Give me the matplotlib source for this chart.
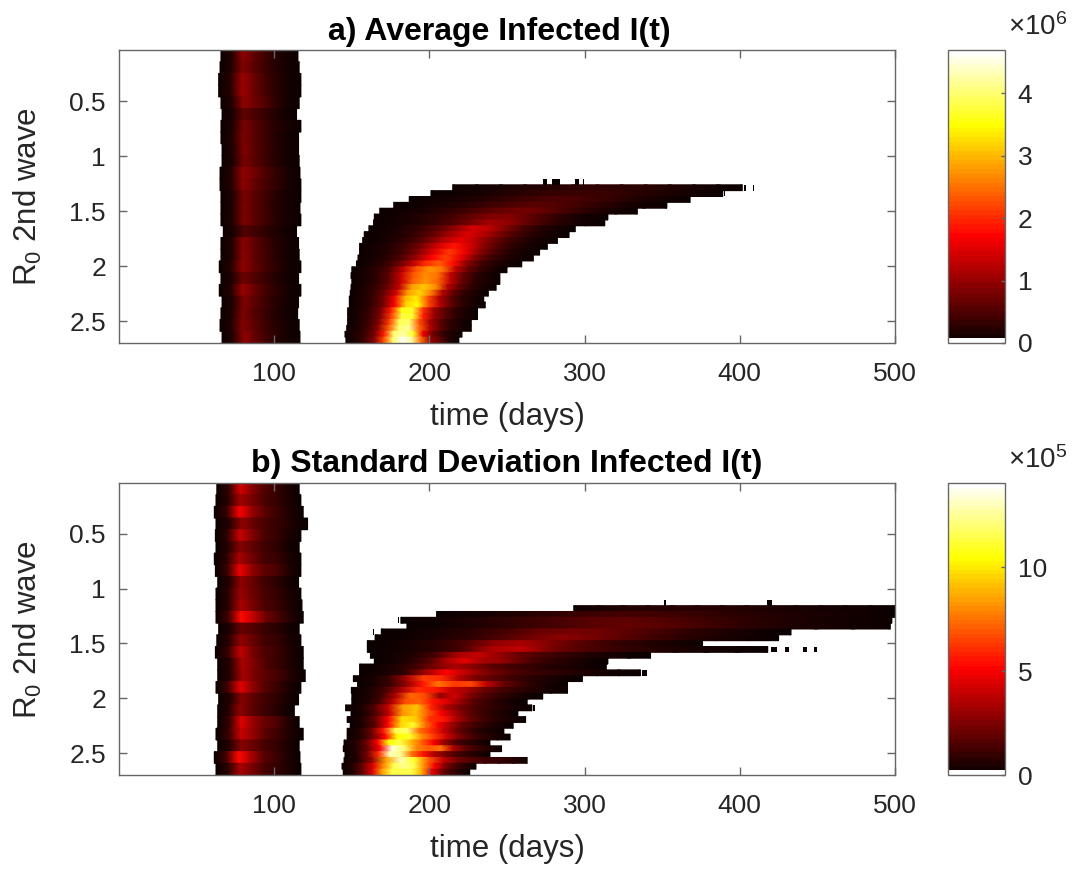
import numpy as np
import matplotlib
matplotlib.use("Agg")
import matplotlib.pyplot as plt
from matplotlib.colors import ListedColormap, Normalize
from matplotlib.cm import ScalarMappable

plt.rcParams['font.family'] = ['Liberation Sans', 'DejaVu Sans']
plt.rcParams['mathtext.fontset'] = 'custom'
plt.rcParams['mathtext.rm'] = 'Liberation Sans'
plt.rcParams['mathtext.default'] = 'regular'

# panel a, first wave: 25 bands of R0 (units 1e6)
a_w1_start = [65.7, 65.1, 64.2, 64.2, 65.7, 66.4, 65.7, 65.7, 66.4, 66.4, 65.1, 65.1, 65.7,
              65.7, 65.7, 67.2, 65.7, 65.7, 64.6, 65.7, 64.6, 66.4, 65.7, 65.1, 66.4]
a_w1_end = [115.3, 116.1, 117.2, 117.2, 116.1, 114.4, 117.2, 115.7, 115.7, 116.1, 116.6, 117.2, 117.2,
            116.6, 117.2, 114.4, 115.7, 116.1, 117.2, 115.7, 117.2, 115.7, 115.1, 116.1, 116.6]
a_w1_vals = [
    [.03, .19, .92, .62, .38, .20, .09, .03],
    [.03, .17, .85, .58, .36, .18, .08, .03],
    [.03, .20, 1.02, .68, .40, .20, .09, .03],
    [.03, .20, 1.03, .68, .42, .20, .09, .03],
    [.03, .19, .92, .70, .48, .22, .09, .03],
    [.03, .14, .62, .46, .32, .17, .07, .02],
    [.03, .16, .78, .54, .33, .18, .08, .03],
    [.03, .17, .80, .56, .35, .18, .08, .03],
    [.03, .17, .84, .56, .36, .18, .08, .03],
    [.03, .16, .78, .54, .35, .18, .08, .03],
    [.03, .20, .95, .72, .46, .26, .10, .03],
    [.03, .19, .92, .64, .42, .24, .10, .03],
    [.03, .16, .78, .54, .35, .18, .08, .03],
    [.03, .16, .80, .56, .35, .18, .08, .03],
    [.03, .17, .82, .56, .35, .17, .08, .03],
    [.02, .13, .52, .40, .27, .15, .06, .02],
    [.03, .18, .88, .60, .38, .20, .09, .03],
    [.03, .18, .90, .62, .40, .20, .09, .03],
    [.03, .19, .95, .64, .40, .21, .09, .03],
    [.03, .15, .70, .50, .33, .18, .08, .03],
    [.03, .20, 1.00, .66, .40, .21, .09, .03],
    [.03, .17, .84, .58, .36, .20, .08, .03],
    [.03, .16, .80, .54, .35, .18, .08, .03],
    [.03, .18, .86, .60, .36, .20, .09, .03],
    [.03, .19, .94, .62, .38, .20, .09, .03],
]

# panel a, second wave: rows 23 to 49 of 50 (units 1e6)
a_w2_start = [215, 201, 187, 177, 168, 164.5, 164, 161, 158, 157, 155, 155, 154, 153,
              150, 149.5, 150, 149.5, 149, 148.4, 148.4, 147.3, 147.3, 147.3, 146.7, 145.6, 146.2]
a_w2_end = [401.6, 389, 368, 353, 334, 315, 313, 294, 290, 282.5, 276, 271, 267, 259.5,
            250, 245.4, 245.4, 243, 238, 235, 236, 231, 231, 227, 227, 221, 219]
a_w2_vals = [
    [.03, .06, .10, .15, .20, .24, .26, .25, .22, .17, .10, .05, .02],
    [.02, .05, .10, .17, .25, .31, .34, .33, .27, .20, .12, .06, .02],
    [.02, .05, .10, .18, .28, .38, .45, .44, .35, .24, .14, .06, .02],
    [.02, .05, .11, .20, .33, .47, .56, .53, .40, .26, .14, .07, .02],
    [.02, .06, .12, .22, .37, .55, .68, .72, .55, .34, .19, .08, .02],
    [.02, .06, .13, .25, .42, .65, .83, .85, .60, .35, .18, .07, .02],
    [.02, .06, .14, .27, .47, .75, 1.05, .95, .62, .34, .17, .07, .02],
    [.02, .07, .16, .30, .55, .95, 1.40, 1.25, .80, .42, .20, .08, .02],
    [.02, .06, .15, .32, .60, 1.05, 1.45, 1.20, .75, .40, .20, .08, .02],
    [.02, .07, .18, .35, .68, 1.20, 1.55, 1.20, .75, .40, .20, .08, .02],
    [.02, .08, .20, .42, .80, 1.40, 1.85, 1.45, .85, .45, .20, .08, .02],
    [.02, .08, .20, .45, .90, 1.55, 2.10, 1.60, .90, .45, .20, .08, .02],
    [.02, .08, .22, .50, 1.00, 1.70, 2.15, 1.60, .85, .40, .20, .08, .02],
    [.03, .10, .27, .60, 1.20, 2.00, 2.35, 1.80, .90, .42, .20, .08, .02],
    [.03, .10, .25, .55, 1.30, 2.30, 2.75, 2.50, 1.30, .65, .28, .10, .02],
    [.03, .10, .25, .55, 1.30, 2.30, 2.70, 2.50, 1.30, .65, .28, .10, .02],
    [.03, .10, .27, .60, 1.35, 2.40, 2.75, 2.40, 1.25, .60, .25, .10, .02],
    [.03, .11, .30, .65, 1.30, 2.80, 3.10, 2.70, 1.20, .60, .25, .10, .02],
    [.03, .11, .30, .70, 1.40, 2.80, 3.20, 2.60, 1.20, .60, .25, .10, .02],
    [.03, .12, .30, .70, 1.60, 3.00, 3.40, 2.30, 1.20, .60, .25, .10, .02],
    [.03, .12, .32, .75, 1.70, 3.20, 3.50, 2.20, 1.20, .60, .25, .10, .02],
    [.03, .12, .32, .75, 1.90, 3.60, 3.70, 2.00, 1.00, .55, .25, .10, .02],
    [.03, .13, .35, .80, 2.10, 3.80, 3.70, 1.90, 1.00, .55, .25, .10, .02],
    [.03, .14, .35, .80, 2.10, 3.90, 4.00, 2.20, 1.10, .55, .25, .10, .02],
    [.04, .14, .38, .90, 2.30, 4.00, 4.20, 2.40, 1.20, .60, .25, .10, .02],
    [.04, .13, .33, .75, 1.90, 4.00, 4.30, 3.70, 1.60, .75, .30, .12, .02],
    [.04, .14, .38, .85, 2.20, 4.00, 4.65, 4.20, 2.40, 1.00, .60, .15, .02],
]
# stray one-row cells: row, start, end
a_specks_row = [22, 22, 22, 22, 23, 23, 24]
a_specks_start = [273, 279, 294, 299, 402.7, 408.5, 390]
a_specks_end = [276, 284, 296.5, 299.6, 404, 409.4, 390.6]

# panel b, first wave: 25 bands (units 1e5)
b_w1_start = [63, 62.5, 61.4, 62.5, 62.1, 62.5, 61.4, 62.1, 63.6, 62.5, 62.5, 62.5, 64.2,
              63, 62.1, 63.6, 63.6, 62.5, 64.2, 63.6, 63.6, 62.5, 63.6, 61.4, 62.5]
b_w1_end = [116.1, 117.2, 118.7, 121.5, 117.2, 116.1, 117.2, 117.2, 115.7, 117.2, 117.9, 118.7, 116.1,
            117.2, 118.7, 118.7, 120, 117.2, 115.7, 113, 116.1, 118.7, 116.1, 116.6, 117.2]
b_w1_vals = [
    [.05, .8, 4.2, 2.6, 1.5, 1.0, .4, .05],
    [.05, .7, 3.2, 2.3, 1.4, .9, .4, .05],
    [.05, .9, 5.0, 2.9, 1.7, 1.0, .4, .05],
    [.05, .6, 2.8, 1.8, 1.2, .8, .3, .05],
    [.05, .8, 4.0, 2.5, 1.4, .9, .4, .05],
    [.05, .6, 2.6, 1.9, 1.2, .8, .3, .05],
    [.05, .7, 3.3, 2.3, 1.3, 1.0, .4, .05],
    [.05, 1.0, 4.8, 2.8, 1.8, 1.4, .5, .05],
    [.05, .6, 2.8, 2.0, 1.2, .8, .3, .05],
    [.05, .7, 3.0, 2.1, 1.3, .9, .4, .05],
    [.05, .7, 3.3, 2.3, 1.4, 1.0, .4, .05],
    [.05, 1.1, 5.3, 3.8, 2.1, 1.3, .5, .05],
    [.05, .5, 2.0, 1.5, 1.0, .7, .3, .05],
    [.05, .7, 2.8, 2.0, 1.2, .9, .4, .05],
    [.05, .9, 3.8, 2.2, 1.4, 1.0, .4, .05],
    [.05, .7, 3.4, 2.4, 1.4, .9, .4, .05],
    [.05, .7, 3.3, 2.3, 1.6, 1.1, .4, .05],
    [.05, 1.2, 4.6, 2.8, 1.6, 1.0, .4, .05],
    [.05, .6, 2.6, 1.8, 1.2, .8, .3, .05],
    [.05, .6, 2.7, 1.9, 1.2, .8, .3, .04],
    [.05, .9, 4.4, 3.0, 2.0, 1.5, .6, .05],
    [.05, .9, 4.0, 2.8, 1.6, 1.0, .4, .05],
    [.05, .6, 2.6, 2.0, 1.3, .9, .4, .05],
    [.05, 1.3, 5.3, 3.4, 1.7, 1.1, .4, .05],
    [.05, .7, 3.4, 2.3, 1.3, .9, .4, .05],
]

# panel b, second wave: rows 21 to 49 of 50 (units 1e5)
b_w2_start = [293, 204.6, 181.6, 185.5, 169, 165, 160, 160, 162, 164.5, 155, 155, 151, 153.7, 149.7,
              150, 150, 146, 149.5, 147, 149, 147, 147, 145, 144.5, 145.6, 145, 143.7, 144.5]
b_w2_end = [500, 500, 498, 497, 433, 425, 376, 418, 342.5, 315, 314, 336, 298.6, 289, 289,
            273, 263, 266, 257, 262, 254, 248, 252, 239, 246.5, 239, 263, 230, 226]
b_w2_vals = [
    [.10, .30, .45, .55, .60, .60, .55, .50, .40, .30, .25, .20, .12, .05],
    [.05, .20, .40, .70, 1.0, 1.2, 1.2, 1.0, .80, .60, .40, .30, .20, .10],
    [.05, .20, .50, .90, 1.3, 1.7, 1.8, 1.5, 1.1, .80, .50, .30, .20, .10],
    [.05, .20, .50, .90, 1.3, 1.7, 1.9, 1.6, 1.2, .80, .50, .30, .20, .08],
    [.05, .15, .40, .80, 1.3, 2.0, 2.3, 2.1, 1.6, 1.1, .70, .40, .20, .05],
    [.05, .15, .40, .80, 1.4, 2.2, 2.7, 2.3, 1.7, 1.1, .70, .40, .20, .05],
    [.05, .15, .40, .80, 1.6, 2.9, 3.3, 2.6, 1.8, 1.2, .80, .50, .30, .08],
    [.05, .20, .50, 1.2, 3.4, 3.8, 2.3, 1.5, 1.0, .70, .40, .25, .12, .05],
    [.05, .20, .50, 1.2, 3.2, 3.9, 2.9, 1.9, 1.3, .90, .60, .35, .15, .04],
    [.05, .20, .60, 1.4, 3.3, 4.6, 3.3, 3.0, 2.0, 1.2, .80, .50, .20, .05],
    [.05, .20, .50, 1.2, 2.4, 3.4, 2.6, 1.7, 1.2, .90, .60, .40, .20, .05],
    [.05, .25, .70, 3.0, 5.2, 3.6, 2.3, 1.5, 1.0, .80, .50, .30, .15, .04],
    [.05, .25, .90, 3.2, 6.4, 6.0, 3.6, 2.3, 1.6, 1.1, .70, .40, .20, .05],
    [.05, .30, 1.0, 2.8, 5.5, 7.6, 6.3, 6.6, 3.8, 2.0, 1.2, .60, .25, .05],
    [.05, .30, 1.2, 3.3, 6.0, 5.6, 4.0, 3.2, 2.0, 1.3, .80, .50, .20, .05],
    [.05, .30, 1.1, 3.5, 7.3, 6.6, 3.0, 4.2, 2.5, 1.5, .90, .50, .20, .05],
    [.05, .30, 1.2, 3.6, 6.8, 7.2, 5.5, 4.4, 3.0, 1.7, 1.0, .50, .20, .05],
    [.05, .30, 1.5, 4.0, 8.4, 9.2, 5.8, 3.5, 2.2, 1.4, .90, .50, .20, .05],
    [.05, .40, 1.6, 4.0, 8.2, 9.2, 7.0, 5.0, 3.4, 2.0, 1.2, .70, .30, .05],
    [.05, .40, 1.8, 5.0, 9.8, 9.4, 6.2, 5.5, 3.4, 1.9, 1.1, .60, .30, .05],
    [.05, .40, 1.8, 5.0, 9.5, 11.0, 7.5, 5.0, 3.2, 1.8, 1.1, .60, .30, .05],
    [.06, .50, 2.0, 5.5, 11.5, 12.0, 7.5, 6.0, 4.0, 2.2, 1.2, .60, .30, .05],
    [.06, .50, 2.0, 5.0, 10.5, 11.0, 8.0, 6.2, 4.0, 2.2, 1.3, .70, .30, .05],
    [.06, .50, 2.0, 5.0, 10.5, 11.5, 9.0, 7.0, 5.0, 2.8, 1.4, .80, .40, .05],
    [.06, .50, 2.0, 5.0, 13.5, 12.0, 8.0, 7.0, 7.5, 3.5, 1.8, 1.0, .50, .05],
    [.07, .50, 2.2, 6.0, 13.0, 12.5, 7.5, 5.5, 3.5, 2.2, 1.3, .80, .40, .05],
    [.07, .60, 3.0, 8.5, 13.0, 11.0, 7.0, 4.0, 2.2, 1.5, 1.1, .90, .60, .20],
    [.07, .50, 2.0, 4.5, 8.0, 11.5, 12.5, 11.5, 8.0, 5.0, 2.5, 1.3, .60, .05],
    [.07, .50, 2.0, 4.5, 8.5, 11.5, 11.5, 11.5, 9.0, 5.0, 2.5, 1.2, .50, .05],
]
b_specks_row = [20, 20, 23, 25, 28, 28, 28, 28, 32, 38]
b_specks_start = [351, 417.7, 179.5, 163.4, 420, 429, 441, 448, 337, 267]
b_specks_end = [352.5, 420.5, 180.5, 164.4, 424, 432, 443.5, 450, 340, 268]

titles = ['a) Average Infected I(t)', 'b) Standard Deviation Infected I(t)']
x_ticks = [100, 200, 300, 400, 500]
y_ticks = [0.5, 1, 1.5, 2, 2.5]
y_tick_labels = ['0.5', '1', '1.5', '2', '2.5']
n_rows = 50
y_top = 0.036
y_bottom = 2.7

GREY = '#666666'
TEXT = '#262626'
W, H = 1073, 871


def add_axes(left, top, right, bottom):
    return fig.add_axes([left / W, 1 - bottom / H, (right - left) / W, (bottom - top) / H])


def draw_rows(ax, edges, starts, ends, vals, norm):
    # one mesh per row, smooth along time, flat between rows
    for k in range(len(vals)):
        xs = np.linspace(starts[k], ends[k], len(vals[k]))
        X = np.vstack([xs, xs])
        Y = np.vstack([np.full(len(xs), edges[k]), np.full(len(xs), edges[k + 1])])
        C = np.vstack([vals[k], vals[k]])
        ax.pcolormesh(X, Y, C, shading='gouraud', cmap='hot', norm=norm)


def panel(ax, cax, title, title_x, title_pad, w1, w2, specks, first_row, vmax, cbar_ticks, exponent):
    norm = Normalize(0, vmax)
    edges = np.linspace(y_top, y_bottom, n_rows + 1)
    draw_rows(ax, edges[::2], w1[0], w1[1], w1[2], norm)
    draw_rows(ax, edges[first_row:], w2[0], w2[1], w2[2], norm)
    for r, t0, t1 in zip(*specks):
        ax.pcolormesh([t0, t1], [edges[r], edges[r + 1]], [[0.0]], cmap='hot', norm=norm)

    ax.set_xlim(0, 500)
    ax.set_ylim(y_bottom, y_top)
    ax.set_xticks(x_ticks)
    ax.set_yticks(y_ticks)
    ax.set_yticklabels(y_tick_labels)
    ax.tick_params(direction='in', top=True, right=True, length=5.8, width=1.0,
                   color=GREY, labelcolor=TEXT, labelsize=19)
    ax.tick_params(axis='x', pad=14)
    ax.tick_params(axis='y', pad=9.4)
    for s in ax.spines.values():
        s.set_color(GREY)
        s.set_linewidth(1.0)
    ax.set_xlabel('time (days)', fontsize=22.5, color=TEXT, labelpad=11.5)
    ax.set_ylabel('R$_0$ 2nd wave', fontsize=22.5, color=TEXT)
    ax.yaxis.set_label_coords(-0.0967, 0.5)
    ax.set_title(title, fontsize=23, fontweight='bold', color='black', x=title_x, pad=title_pad)

    levels = plt.get_cmap('hot', 64)(np.arange(64))
    levels[0] = [1, 1, 1, 1]
    sm = ScalarMappable(norm=norm, cmap=ListedColormap(levels))
    cb = fig.colorbar(sm, cax=cax, ticks=cbar_ticks)
    cb.ax.tick_params(direction='in', length=3, width=1.0, color=GREY,
                      labelcolor=TEXT, labelsize=19, pad=9)
    cb.outline.set_edgecolor(GREY)
    cb.outline.set_linewidth(1.0)
    cax.text(1.06, 1.05, r'$\times$10$^{%d}$' % exponent, transform=cax.transAxes,
             fontsize=20, color=TEXT, ha='left', va='baseline')


fig = plt.figure(figsize=(W / 100, H / 100), dpi=100)

ax_a = add_axes(119, 50, 895, 343)
cax_a = add_axes(948, 50, 1005, 343)
panel(ax_a, cax_a, titles[0], 0.49, 7.5, (a_w1_start, a_w1_end, a_w1_vals),
      (a_w2_start, a_w2_end, a_w2_vals), (a_specks_row, a_specks_start, a_specks_end),
      23, 4.69, [0, 1, 2, 3, 4], 6)

ax_b = add_axes(119, 483, 895, 775)
cax_b = add_axes(948, 483, 1005, 775)
panel(ax_b, cax_b, titles[1], 0.5, 8, (b_w1_start, b_w1_end, b_w1_vals),
      (b_w2_start, b_w2_end, b_w2_vals), (b_specks_row, b_specks_start, b_specks_end),
      21, 14.05, [0, 5, 10], 5)

fig.savefig('out.png', dpi=100)
